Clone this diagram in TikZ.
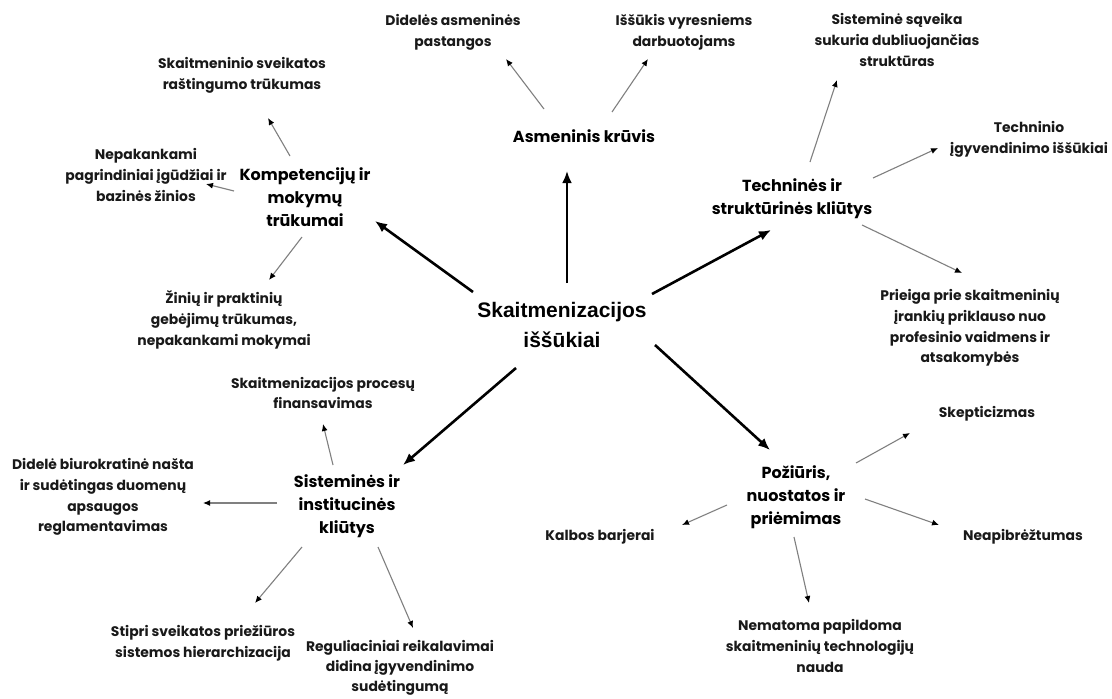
\documentclass[tikz,border=0pt]{standalone}
\usepackage{fontspec}
\setmainfont{Poppins}
\setsansfont{Liberation Sans}
\usetikzlibrary{arrows.meta,calc}
\begin{document}
\begin{tikzpicture}[x=1pt,y=-1pt,
  hub/.style={font=\sffamily\bfseries\fontsize{21}{30}\selectfont, align=center, inner sep=0pt},
  topic/.style={font=\bfseries\fontsize{16}{23}\selectfont, align=center, inner sep=0pt},
  leaf/.style={font=\bfseries\fontsize{13.9}{20.8}\selectfont, align=center, inner sep=0pt, text=black!90},
  mainarrow/.style={line width=2.6pt, -{Latex[length=12pt,width=10pt]}},
  subarrow/.style={draw=black!50, line width=1.1pt, -{Latex[length=7pt,width=6pt,color=black]}},
]
\useasboundingbox (0,0) rectangle (1112,699);
\fill[white] (0,0) rectangle (1112,699);

% hub
\node[hub] (hub) at (562,325) {Skaitmenizacijos\\iššūkiai};

% topics
\node[topic] (asm)  at (584,136) {Asmeninis krūvis};
\node[topic] (komp) at (305,197) {Kompetencijų ir\\mokymų\\trūkumai};
\node[topic] (tech) at (792,199) {Techninės ir\\struktūrinės kliūtys};
\node[topic] (sist) at (347,506) {Sisteminės ir\\institucinės\\kliūtys};
\node[topic] (poz)  at (796,497) {Požiūris,\\nuostatos ir\\priėmimas};

% leaves
\node[leaf] (did) at (453,32)  {Didelės asmeninės\\pastangos};
\node[leaf] (iss) at (684,32)  {Iššūkis vyresniems\\darbuotojams};
\node[leaf] (skr) at (242,75)  {Skaitmeninio sveikatos\\raštingumo trūkumas};
\node[leaf] (nep) at (146,175) {Nepakankami\\pagrindiniai įgūdžiai ir\\bazinės žinios};
\node[leaf] (zin) at (224,320) {Žinių ir praktinių\\gebėjimų trūkumas,\\nepakankami mokymai};
\node[leaf] (sis) at (897,40)  {Sisteminė sąveika\\sukuria dubliuojančias\\struktūras};
\node[leaf] (tei) at (1029,139) {Techninio\\įgyvendinimo iššūkiai};
\node[leaf] (pri) at (970,328) {Prieiga prie skaitmeninių\\įrankių priklauso nuo\\profesinio vaidmens ir\\atsakomybės};
\node[leaf] (fin) at (323,393) {Skaitmenizacijos procesų\\finansavimas};
\node[leaf] (biu) at (103,497) {Didelė biurokratinė našta\\ir sudėtingas duomenų\\apsaugos\\reglamentavimas};
\node[leaf] (sti) at (203,643) {Stipri sveikatos priežiūros\\sistemos hierarchizacija};
\node[leaf] (reg) at (400,668) {Reguliaciniai reikalavimai\\[-1pt]didina įgyvendinimo\\[-1pt]sudėtingumą};
\node[leaf] (ske) at (987,414) {Skepticizmas};
\node[leaf] (kal) at (600,537) {Kalbos barjerai};
\node[leaf] (nea) at (1023,537) {Neapibrėžtumas};
\node[leaf] (nem) at (820,646) {Nematoma papildoma\\skaitmeninių technologijų\\nauda};

% hub to topics
\draw[mainarrow] ([shift={(5,-42)}]hub.center) -- ([shift={(-17,35)}]asm.center);
\draw[mainarrow] ([shift={(-89,-33)}]hub.center) -- ([shift={(70,24)}]komp.center);
\draw[mainarrow] ([shift={(90,-31)}]hub.center) -- ([shift={(-21,31)}]tech.center);
\draw[mainarrow] ([shift={(-46,43)}]hub.center) -- ([shift={(56,-41)}]sist.center);
\draw[mainarrow] ([shift={(93,20)}]hub.center) -- ([shift={(-26,-47)}]poz.center);

% topics to leaves
\draw[subarrow] ([shift={(-40,-27)}]asm.center) -- ([shift={(53,27)}]did.center);
\draw[subarrow] ([shift={(28,-24)}]asm.center) -- ([shift={(-36,27)}]iss.center);

\draw[subarrow] ([shift={(-15,-41)}]komp.center) -- ([shift={(26,43)}]skr.center);
\draw[subarrow] ([shift={(-71,-6)}]komp.center) -- ([shift={(60,9)}]nep.center);
\draw[subarrow] ([shift={(-3,40)}]komp.center) -- ([shift={(45,-40)}]zin.center);

\draw[subarrow] ([shift={(18,-37)}]tech.center) -- ([shift={(-60,40)}]sis.center);
\draw[subarrow] ([shift={(81,-21)}]tech.center) -- ([shift={(-91,9)}]tei.center);
\draw[subarrow] ([shift={(70,26)}]tech.center) -- ([shift={(-8,-55)}]pri.center);

\draw[subarrow] ([shift={(-14,-41)}]sist.center) -- ([shift={(0,31)}]fin.center);
\draw[subarrow] ([shift={(-70,-3)}]sist.center) -- ([shift={(100,6)}]biu.center);
\draw[subarrow] ([shift={(-45,41)}]sist.center) -- ([shift={(52,-40)}]sti.center);
\draw[subarrow] ([shift={(31,41)}]sist.center) -- ([shift={(13,-40)}]reg.center);

\draw[subarrow] ([shift={(60,-34)}]poz.center) -- ([shift={(-77,19)}]ske.center);
\draw[subarrow] ([shift={(-69,8)}]poz.center) -- ([shift={(82,-12)}]kal.center);
\draw[subarrow] ([shift={(69,2)}]poz.center) -- ([shift={(-84,-12)}]nea.center);
\draw[subarrow] ([shift={(-2,40)}]poz.center) -- ([shift={(-11,-43)}]nem.center);
\end{tikzpicture}
\end{document}
